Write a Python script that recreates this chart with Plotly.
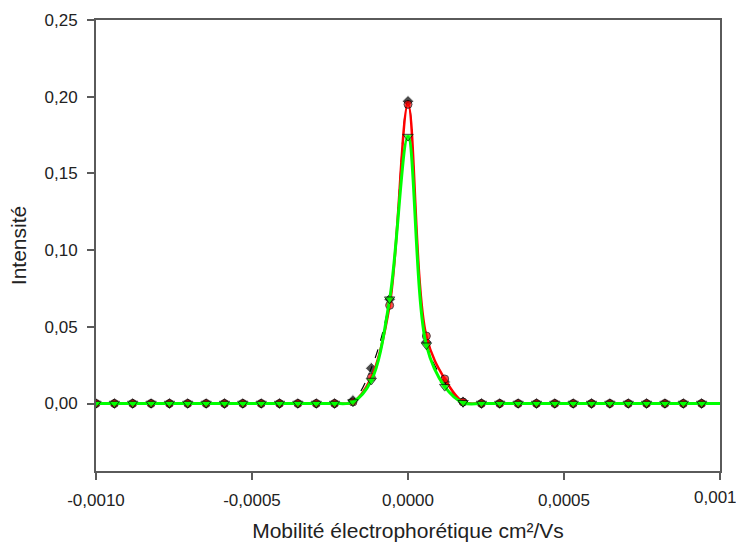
import plotly.graph_objects as go

n_points = 35
x_start = -0.001
x_step = 0.001 / 17
mobility = [x_start + i * x_step for i in range(n_points)]

black_vals = [0]*14 + [0.002, 0.023, 0.068, 0.197, 0.040, 0.014, 0.001] + [0]*14
red_vals   = [0]*14 + [0.001, 0.017, 0.064, 0.195, 0.044, 0.016, 0.001] + [0]*14
green_vals = [0]*14 + [0.001, 0.015, 0.068, 0.174, 0.038, 0.011, 0.0005] + [0]*14

y_ticks = [0.00, 0.05, 0.10, 0.15, 0.20, 0.25]
y_labels = ["0,00", "0,05", "0,10", "0,15", "0,20", "0,25"]
x_ticks = [-0.001, -0.0005, 0.0, 0.0005, 0.001]
x_labels = ["-0,0010", "-0,0005", "0,0000", "0,0005", "0,0010"]

FONT = "Liberation Sans, Arial, sans-serif"

def sizes(s):
    return [s]*(n_points-1) + [0]

fig = go.Figure()
fig.add_trace(go.Scatter(x=mobility, y=black_vals, mode="lines+markers",
    line=dict(color="black", width=1.2, dash="dash", shape="spline", smoothing=1),
    marker=dict(symbol="diamond", size=sizes(9), color="black")))
fig.add_trace(go.Scatter(x=mobility, y=red_vals, mode="lines+markers",
    line=dict(color="#ff0000", width=2.5, shape="spline", smoothing=1),
    marker=dict(symbol="circle", size=sizes(8), color="#ff0000", line=dict(color="black", width=1))))
fig.add_trace(go.Scatter(x=mobility, y=green_vals, mode="lines+markers",
    line=dict(color="#00ff00", width=3, shape="spline", smoothing=1),
    marker=dict(symbol="triangle-down", size=sizes(9), color="#00ff00", line=dict(color="black", width=1))))

axis_common = dict(showline=True, linecolor="#5a5a5a", linewidth=2, mirror=True,
                   ticks="outside", ticklen=7, tickwidth=1.5, tickcolor="#5a5a5a",
                   showgrid=False, zeroline=False, automargin=False,
                   tickfont=dict(family=FONT, size=17, color="#222222"))

fig.update_layout(
    width=736, height=545,
    margin=dict(l=96, r=16, t=20, b=74),
    paper_bgcolor="white", plot_bgcolor="white",
    showlegend=False,
    xaxis=dict(range=[-0.001, 0.001], tickvals=x_ticks, ticktext=x_labels,
               ticklabelstandoff=6,
               title=dict(text="Mobilité électrophorétique cm²/Vs",
                          font=dict(family=FONT, size=21, color="#222222"),
                          standoff=14),
               **axis_common),
    yaxis=dict(range=[-0.044, 0.25], tickvals=y_ticks, ticktext=y_labels,
               ticklabelstandoff=6,
               title=dict(text="Intensité",
                          font=dict(family=FONT, size=21, color="#222222"),
                          standoff=12),
               **axis_common),
)

# Right-end tick label, which the page edge cuts off (as in the reference)
fig.add_annotation(x=x_ticks[-1], xref="x", y=0, yref="paper",
                   text=x_labels[-1], showarrow=False,
                   xanchor="center", yanchor="middle", yshift=-26,
                   font=dict(family=FONT, size=17, color="#222222"))

fig.write_html("out.html")
